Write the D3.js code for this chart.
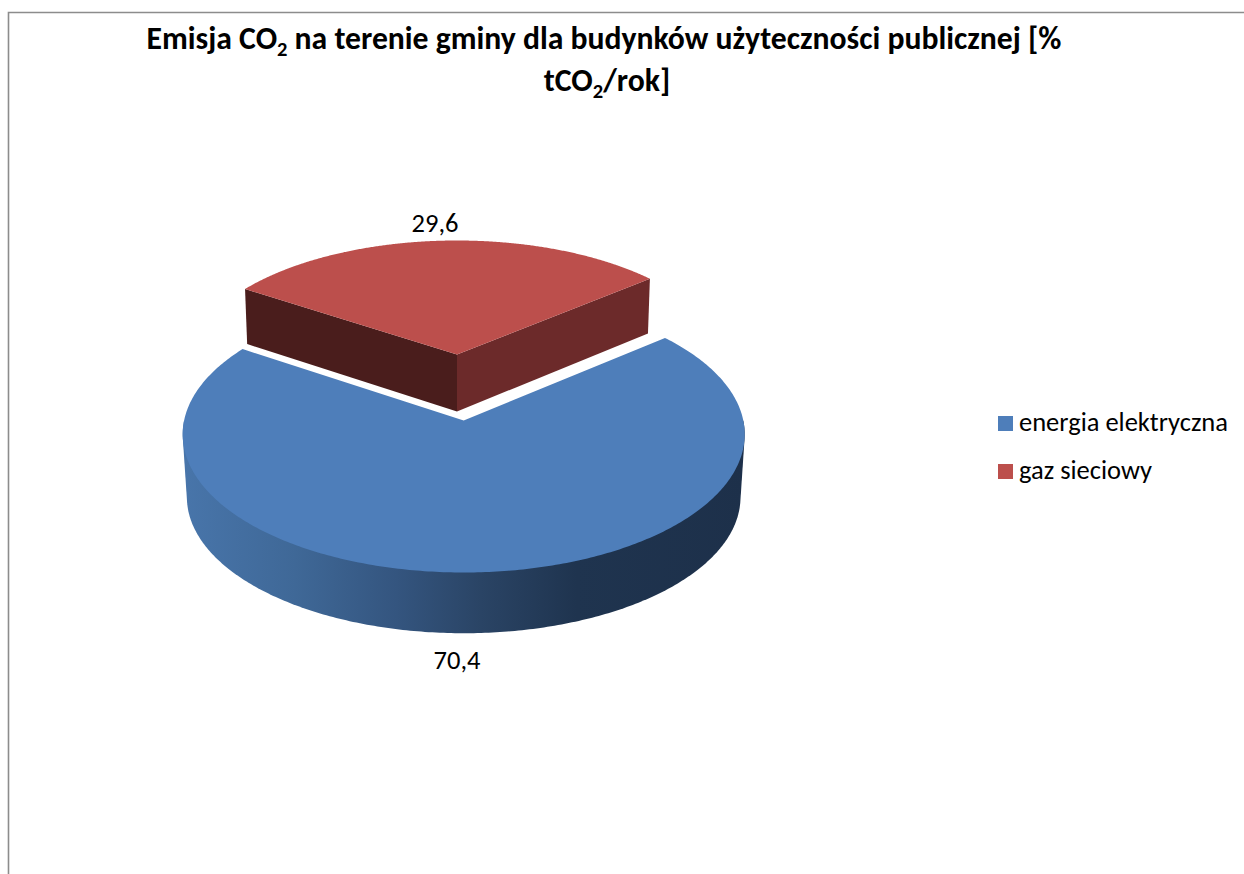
<!DOCTYPE html>
<html lang="pl"><head><meta charset="utf-8">
<script src="https://cdn.jsdelivr.net/npm/d3@7"></script>
<style>html,body{margin:0;padding:0;background:#fff}svg{display:block}text{font-family:Carlito,Lato,"Open Sans",sans-serif;fill:#000}</style>
</head><body><svg id="c" width="1244" height="874"></svg>
<script>
const categories = ["energia elektryczna", "gaz sieciowy"];
const values = [70.4, 29.6];
const topColors = ["#4e7eba", "#bc4f4c"];
const legendRows = [431, 479];

const svg = d3.select("#c");
const defs = svg.append("defs");
const g = defs.append("linearGradient").attr("id","wall").attr("gradientUnits","userSpaceOnUse")
  .attr("x1",183).attr("x2",745).attr("y1",0).attr("y2",0);
[[0,"#4875aa"],[0.2,"#3f6897"],[0.38,"#34557f"],[0.53,"#2a4465"],[0.7,"#1f344f"],[1,"#1d304a"]]
  .forEach(([o,c])=>g.append("stop").attr("offset",o).attr("stop-color",c));

svg.append("path").attr("d","M8.5,874V12.5H1244").attr("fill","none").attr("stroke","#8c8c8c").attr("stroke-width",1.6);

// Pie layout, rotated so the red slice sits at the back
const pie = d3.pie().sort(null).value(d=>d)
  .startAngle(50*Math.PI/180).endAngle(410*Math.PI/180);
const arcs = pie(values);

// Perspective projection of each exploded slice
const k = 0.1;
const layout = [
  {cx:463.7, cy:420.5, R:279.6, Ry:136.8, d:63, xs:0.985, ys:0.985},
  {cx:457,   cy:354.5, R:268,   Ry:125.4, d:57, xs:0.99,  ys:1.03}
];
const project = (a,l) => {
  const sx = d3.scaleLinear().domain([-1,1]).range([-l.R,l.R]);
  const sy = d3.scaleLinear().domain([-1,1]).range([-l.Ry,l.Ry]);
  const u=Math.sin(a), v=-Math.cos(a), w=1-k*v;
  return [sx(u/w), sy(v/w)];
};
const line = d3.line();
const upper = (p,l)=>[l.cx+p[0], l.cy+p[1]];
const lower = (p,l)=>[l.cx+p[0]*l.xs, l.cy+p[1]*l.ys+l.d];
const rim = (a,l) => d3.range(0,361).map(i=>project(a.startAngle+(a.endAngle-a.startAngle)*i/360,l));

// blue wall + top: the wall is the silhouette of the front part of both rims
{
  const a=arcs[0], l=layout[0], pts=rim(a,l);
  const front=pts.filter(p=>p[1]>0);
  const hull=d3.polygonHull([...front.map(p=>upper(p,l)),...front.map(p=>lower(p,l))]);
  svg.append("path").attr("d",line(hull)+"Z").attr("fill","url(#wall)");
  svg.append("path").attr("d",line([[l.cx,l.cy],...pts.map(p=>upper(p,l))])+"Z").attr("fill",topColors[0]);
}
// red cut faces + top
{
  const a=arcs[1], l=layout[1], pts=rim(a,l), c=[0,0];
  const s=pts[0], e=pts[pts.length-1];
  svg.append("path").attr("d",line([upper(c,l),upper(s,l),lower(s,l),lower(c,l)])+"Z").attr("fill","#4a1d1c");
  svg.append("path").attr("d",line([upper(c,l),upper(e,l),lower(e,l),lower(c,l)])+"Z").attr("fill","#6c2a2a");
  svg.append("path").attr("d",line([[l.cx,l.cy],...pts.map(p=>upper(p,l))])+"Z").attr("fill",topColors[1]);
}

// data labels
const fmt = v => String(v).replace(".",",");
const labelPos = [[457,669],[435,232]];
svg.selectAll("text.v").data(values).join("text").attr("class","v")
  .attr("x",(d,i)=>labelPos[i][0]).attr("y",(d,i)=>labelPos[i][1])
  .attr("text-anchor","middle").attr("font-size",26.5).text(fmt);

// title
function titleLine(x,y,before,after){
  const t=svg.append("text").attr("x",x).attr("y",y).attr("text-anchor","middle").attr("font-size",31.7).attr("font-weight",700);
  t.append("tspan").text(before);
  t.append("tspan").attr("dy",7).attr("font-size",20.5).text("2");
  t.append("tspan").attr("dy",-7).text(after);
}
titleLine(604,49,"Emisja CO"," na terenie gminy dla budynków użyteczności publicznej [%");
titleLine(607,91,"tCO","/rok]");

// legend
svg.selectAll("rect.l").data(categories).join("rect").attr("class","l")
  .attr("x",998).attr("y",(d,i)=>legendRows[i]-15).attr("width",15).attr("height",15)
  .attr("fill",(d,i)=>topColors[i]);
svg.selectAll("text.l").data(categories).join("text").attr("class","l")
  .attr("x",1019).attr("y",(d,i)=>legendRows[i]).attr("font-size",26.5).text(d=>d);
</script></body></html>
